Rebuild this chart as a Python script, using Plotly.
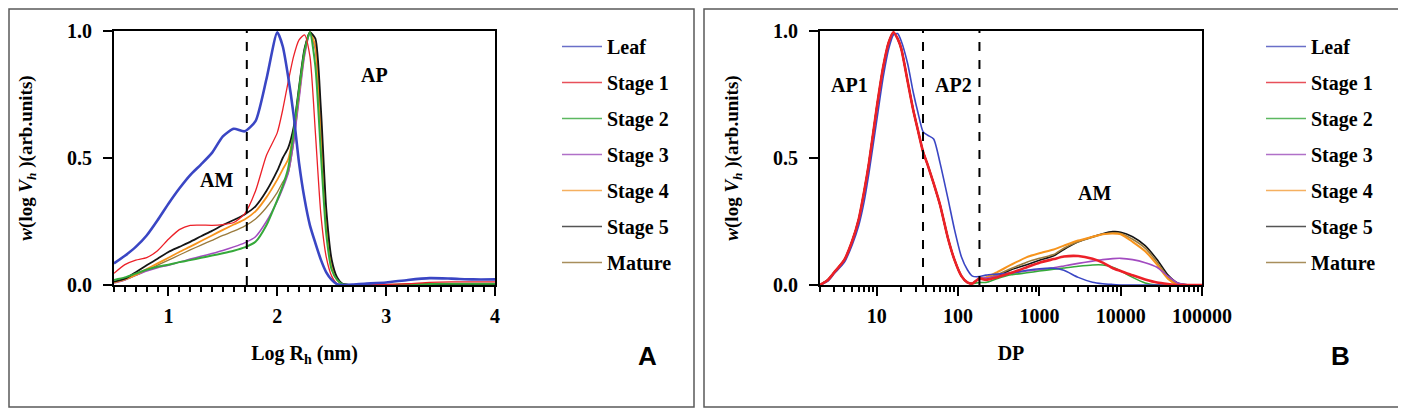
import plotly.graph_objects as go

# ---- panel A: hydrodynamic radius distributions (log Rh, nm) ----
log_rh = [0.5, 0.6, 0.7, 0.8, 0.9, 1.0, 1.1, 1.2, 1.3, 1.4, 1.5, 1.6, 1.7, 1.8, 1.9, 2.0,
          2.05, 2.1, 2.15, 2.2, 2.25, 2.3, 2.35, 2.4, 2.45, 2.5, 2.55, 2.6, 2.7, 2.8,
          3.0, 3.2, 3.4, 3.6, 3.8, 4.0]

a_leaf = [0.085, 0.115, 0.15, 0.195, 0.255, 0.32, 0.38, 0.433, 0.475, 0.52, 0.585, 0.615, 0.605, 0.645, 0.81, 0.995,
          0.94, 0.82, 0.67, 0.48, 0.34, 0.235, 0.165, 0.10, 0.05, 0.02, 0.003, 0.0, 0.002, 0.005,
          0.01, 0.02, 0.027, 0.025, 0.022, 0.022]
a_stage1 = [0.046, 0.08, 0.098, 0.108, 0.135, 0.18, 0.218, 0.235, 0.236, 0.235, 0.238, 0.246, 0.28, 0.37, 0.51, 0.60,
            0.69, 0.80, 0.90, 0.965, 0.985, 0.90, 0.60, 0.28, 0.11, 0.035, 0.005, 0.0, 0.0, 0.0,
            0.002, 0.005, 0.01, 0.012, 0.012, 0.012]
a_stage2 = [0.02, 0.03, 0.045, 0.06, 0.072, 0.08, 0.09, 0.098, 0.107, 0.116, 0.125, 0.135, 0.148, 0.17, 0.235, 0.335,
            0.39, 0.46, 0.60, 0.77, 0.92, 0.995, 0.86, 0.52, 0.20, 0.06, 0.02, 0.003, 0.0, 0.0,
            0.0, 0.002, 0.004, 0.005, 0.005, 0.005]
a_stage3 = [0.008, 0.02, 0.038, 0.055, 0.068, 0.078, 0.09, 0.102, 0.113, 0.124, 0.136, 0.15, 0.166, 0.19, 0.25, 0.33,
            0.38, 0.44, 0.56, 0.73, 0.90, 0.99, 0.93, 0.60, 0.25, 0.08, 0.02, 0.004, 0.0, 0.0,
            0.0, 0.002, 0.003, 0.003, 0.003, 0.003]
a_stage4 = [0.01, 0.022, 0.04, 0.063, 0.085, 0.107, 0.13, 0.151, 0.173, 0.195, 0.217, 0.238, 0.258, 0.29, 0.345, 0.415,
            0.455, 0.495, 0.60, 0.76, 0.92, 0.995, 0.94, 0.60, 0.24, 0.07, 0.02, 0.003, 0.0, 0.0,
            0.0, 0.002, 0.003, 0.003, 0.003, 0.003]
a_stage5 = [0.013, 0.025, 0.05, 0.078, 0.103, 0.13, 0.15, 0.17, 0.192, 0.213, 0.236, 0.256, 0.278, 0.31, 0.37, 0.45,
            0.50, 0.54, 0.62, 0.78, 0.93, 0.995, 0.97, 0.70, 0.30, 0.10, 0.03, 0.005, 0.0, 0.0,
            0.0, 0.001, 0.002, 0.002, 0.002, 0.002]
a_mature = [0.01, 0.02, 0.038, 0.058, 0.078, 0.098, 0.118, 0.138, 0.157, 0.176, 0.195, 0.212, 0.232, 0.26, 0.305, 0.365,
            0.405, 0.44, 0.56, 0.74, 0.91, 0.995, 0.93, 0.58, 0.23, 0.07, 0.02, 0.003, 0.0, 0.0,
            0.0, 0.001, 0.002, 0.002, 0.002, 0.002]

# ---- panel B: chain length distributions (DP) ----
dp = [2, 2.5, 3, 4, 5, 6, 7, 8, 10, 12, 14, 16, 18, 20, 24, 28, 32, 37, 42, 50, 60, 75, 90, 110, 130, 150,
      183, 220, 300, 450, 700, 1000, 1500, 2000, 3000, 4500, 6000, 8000, 10000, 14000, 20000, 28000,
      38000, 50000, 70000, 100000]

b_leaf = [0.0, 0.015, 0.045, 0.09, 0.16, 0.235, 0.33, 0.44, 0.65, 0.82, 0.93, 0.985, 0.99, 0.96, 0.87, 0.76,
          0.68, 0.604, 0.59, 0.575, 0.48, 0.34, 0.22, 0.11, 0.06, 0.035,
          0.033, 0.039, 0.043, 0.048, 0.058, 0.064, 0.066, 0.058, 0.03, 0.011, 0.005, 0.002, 0.0, 0.0, 0.0, 0.0,
          0.0, 0.0, 0.0, 0.0]
# amylopectin part (DP < 183) is practically identical for the six grain stages
b_ap_grain = [0.0, 0.02, 0.05, 0.10, 0.175, 0.26, 0.37, 0.48, 0.70, 0.86, 0.955, 0.995, 0.97, 0.93, 0.80, 0.69,
              0.61, 0.525, 0.475, 0.40, 0.315, 0.184, 0.10, 0.035, 0.01, 0.006]
b_am_stage1 = [0.026, 0.02, 0.03, 0.048, 0.07, 0.088, 0.102, 0.112, 0.114, 0.103, 0.088, 0.066, 0.055, 0.038, 0.022, 0.01,
               0.004, 0.0, 0.0, 0.0]
b_am_stage2 = [0.01, 0.01, 0.025, 0.04, 0.048, 0.055, 0.062, 0.067, 0.074, 0.079, 0.079, 0.07, 0.055, 0.03, 0.008, 0.0,
               0.0, 0.0, 0.0, 0.0]
b_am_stage3 = [0.026, 0.028, 0.035, 0.045, 0.055, 0.06, 0.068, 0.075, 0.085, 0.094, 0.10, 0.104, 0.105, 0.10, 0.088, 0.07,
               0.035, 0.008, 0.0, 0.0]
b_am_stage4 = [0.026, 0.03, 0.05, 0.08, 0.11, 0.125, 0.14, 0.155, 0.175, 0.19, 0.20, 0.203, 0.20, 0.17, 0.133, 0.08,
               0.025, 0.002, 0.0, 0.0]
b_am_stage5 = [0.026, 0.025, 0.035, 0.06, 0.08, 0.097, 0.115, 0.14, 0.17, 0.19, 0.202, 0.21, 0.208, 0.19, 0.155, 0.10,
               0.04, 0.008, 0.0, 0.0]
b_am_mature = [0.026, 0.028, 0.04, 0.065, 0.09, 0.105, 0.12, 0.145, 0.17, 0.188, 0.2, 0.205, 0.203, 0.18, 0.145, 0.09,
               0.032, 0.005, 0.0, 0.0]

names = ["Leaf", "Stage 1", "Stage 2", "Stage 3", "Stage 4", "Stage 5", "Mature"]
colors = ["#3a46c4", "#ec2028", "#35a93a", "#a24bc0", "#f7941d", "#151515", "#9a7a3c"]
legend_colors = ["#6a6fc8", "#e8505a", "#5cb860", "#b070c8", "#f5b060", "#555555", "#a88e5c"]

a_series = [a_leaf, a_stage1, a_stage2, a_stage3, a_stage4, a_stage5, a_mature]
b_series = [b_leaf] + [b_ap_grain + am for am in
                       [b_am_stage1, b_am_stage2, b_am_stage3, b_am_stage4, b_am_stage5, b_am_mature]]

a_widths = [2.6, 1.3, 2.0, 1.5, 1.8, 1.8, 1.3]
b_widths = [1.6, 2.6, 1.6, 1.6, 2.0, 1.6, 1.6]
a_draw = [6, 3, 4, 5, 2, 1, 0]   # drawing order (last on top)
b_draw = [5, 6, 4, 3, 2, 0, 1]

# the page body adds an 8px margin, so the figure is drawn 8px smaller and
# positions below are given in page pixels of the 1406x411 view
OFF = 8
W, H = 1406 - OFF, 411 - OFF
serif = "Liberation Serif"
font_b = dict(family=serif, size=20, color="black", weight="bold")

fig = go.Figure()
for panel, xs, series, widths, order, xa, ya, lg in [
  ("a", log_rh, a_series, a_widths, a_draw, "x", "y", "legend"),
  ("b", dp, b_series, b_widths, b_draw, "x2", "y2", "legend2"),
]:
  for i in order:
    fig.add_trace(go.Scatter(
      x=xs, y=series[i], mode="lines", name=names[i],
      line=dict(color=colors[i], width=widths[i], shape="spline", smoothing=0.6),
      xaxis=xa, yaxis=ya, showlegend=False, legendgroup=panel + names[i],
    ))
  # thin legend entries, as in the original figure
  for i, name in enumerate(names):
    fig.add_trace(go.Scatter(
      x=[None], y=[None], mode="lines", name=name,
      line=dict(color=legend_colors[i], width=1.6),
      xaxis=xa, yaxis=ya, legend=lg, legendrank=i + 1, legendgroup=panel + name,
      hoverinfo="skip",
    ))

axis_common = dict(
  showline=True, linecolor="black", linewidth=2, mirror=True,
  ticks="outside", ticklen=9, tickwidth=2, tickcolor="black",
  showgrid=False, zeroline=False, tickfont=font_b, automargin=False,
)
minor_ticks = dict(ticks="outside", ticklen=5, tickwidth=1.5, tickcolor="black")
ytitle = "<i>w</i>(log <i>V</i><sub><i>h</i></sub> )(arb.units)"
yfont = dict(font_b, size=19)


def px_x(p):
  return (p - OFF) / W


def px_y(p):
  return 1 - (p - OFF) / H


legend_common = dict(xanchor="left", yanchor="top", font=font_b, itemwidth=40,
                     tracegroupgap=7, bgcolor="rgba(0,0,0,0)", borderwidth=0)

fig.update_layout(
  width=W, height=H, margin=dict(l=0, r=0, t=0, b=0, pad=0),
  paper_bgcolor="white", plot_bgcolor="white", showlegend=True,
  xaxis=dict(axis_common, domain=[px_x(114), px_x(495)], range=[0.5, 4], tick0=1, dtick=1,
             minor=dict(minor_ticks, dtick=0.1, tick0=0.5), ticklabelstandoff=3,
             title=dict(text="Log R<sub>h</sub> (nm)", font=font_b, standoff=20),
             anchor="y"),
  yaxis=dict(axis_common, domain=[px_y(285), px_y(31)], range=[0, 1], tickvals=[0, 0.5, 1],
             tickformat=".1f", ticklabelstandoff=7,
             title=dict(text=ytitle, font=yfont, standoff=29), anchor="x"),
  xaxis2=dict(axis_common, type="log", domain=[px_x(820), px_x(1202)], range=[0.30103, 5],
              tickvals=[10, 100, 1000, 10000, 100000], ticktext=["10", "100", "1000", "10000", "100000"],
              minor=dict(minor_ticks, dtick="D1"), ticklabelstandoff=3,
              title=dict(text="DP", font=font_b, standoff=20),
              anchor="y2"),
  yaxis2=dict(axis_common, domain=[px_y(285), px_y(31)], range=[0, 1], tickvals=[0, 0.5, 1],
              tickformat=".1f", ticklabelstandoff=7,
              title=dict(text=ytitle, font=yfont, standoff=29), anchor="x2"),
  legend=dict(legend_common, x=px_x(557), y=px_y(27)),
  legend2=dict(legend_common, x=px_x(1261), y=px_y(27)),
)

# panel frames (kept inside the drawable page area)
for x0, x1 in [(OFF + 1, 694), (704, 1399)]:
  fig.add_shape(type="rect", xref="paper", yref="paper", x0=px_x(x0), x1=px_x(x1),
                y0=px_y(407), y1=px_y(OFF + 1), line=dict(color="#5a5a5a", width=1.5))

# fraction boundaries
for xv, xr, yr in [(1.72, "x", "y"), (37, "x2", "y2"), (183, "x2", "y2")]:
  fig.add_shape(type="line", xref=xr, yref=yr, x0=xv, x1=xv, y0=0, y1=1,
                line=dict(color="black", width=2, dash="dash"))

labels = [("AP", 2.89, 0.827, "x", "y"), ("AM", 1.44, 0.413, "x", "y"),
          ("AP1", 0.668, 0.787, "x2", "y2"), ("AP2", 1.94, 0.787, "x2", "y2"),
          ("AM", 3.68, 0.362, "x2", "y2")]
for text, xv, yv, xr, yr in labels:
  fig.add_annotation(text=text, x=xv, y=yv, xref=xr, yref=yr, showarrow=False, font=font_b)

for text, xc in [("A", 647), ("B", 1352)]:
  fig.add_annotation(text=text, x=px_x(xc), y=px_y(373), xref="paper", yref="paper",
                     showarrow=False, font=dict(family="Liberation Sans", size=26, color="black", weight="bold"))

fig.write_html("out.html")
